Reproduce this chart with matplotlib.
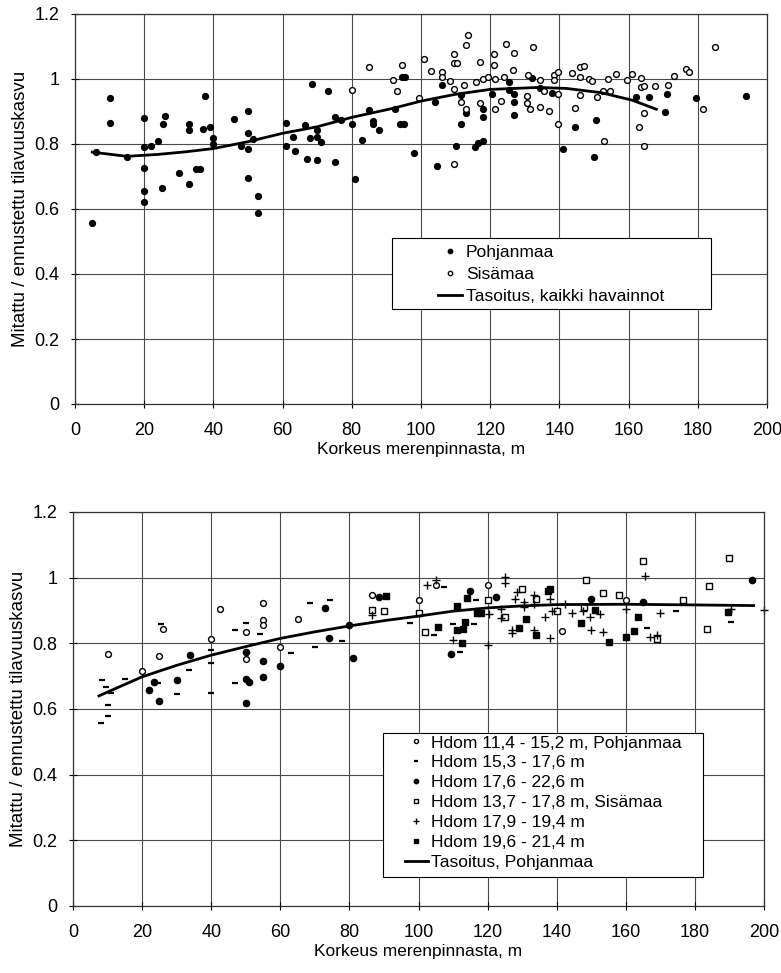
import matplotlib
matplotlib.use('Agg')
import matplotlib.pyplot as plt
from matplotlib.patches import Rectangle
from matplotlib.ticker import FuncFormatter, MultipleLocator

plt.rcParams['font.family'] = ['Liberation Sans', 'DejaVu Sans']

# --- Ylempi kuva: Pohjanmaa / Sisämaa ---
pohj_x = [5, 6, 10, 10, 15, 20, 20, 20, 20, 20, 22, 24, 25, 26, 25.5, 30, 33, 33, 33, 35, 36,
          37.5, 37, 39, 40, 40, 46, 50, 50, 48, 50, 50, 51.5, 53, 53, 61, 61, 63, 63.5, 66.5, 67,
          68.5, 68, 70, 70, 70, 71, 73, 75, 75, 77, 80, 81, 83, 85, 86, 86, 88, 92.5, 94, 95,
          94.5, 95.5, 98, 104, 104.5, 106, 111.5, 111.5, 110, 113, 115.5, 116.5, 118, 118, 118,
          120.5, 125.5, 125.5, 127, 127, 127, 132, 134.5, 138, 141, 144.5, 150, 150.5, 162, 166,
          171, 170.5, 179.5, 194]
pohj_y = [0.557, 0.775, 0.94, 0.865, 0.76, 0.88, 0.79, 0.727, 0.655, 0.62, 0.795, 0.81, 0.665,
          0.887, 0.862, 0.71, 0.676, 0.842, 0.86, 0.722, 0.724, 0.948, 0.847, 0.853, 0.818, 0.8,
          0.877, 0.903, 0.834, 0.795, 0.786, 0.694, 0.814, 0.64, 0.589, 0.865, 0.793, 0.82, 0.778,
          0.858, 0.754, 0.986, 0.817, 0.823, 0.843, 0.75, 0.807, 0.964, 0.884, 0.746, 0.874, 0.863,
          0.693, 0.813, 0.905, 0.871, 0.863, 0.843, 0.908, 0.862, 0.86, 1.005, 1.007, 0.771, 0.93,
          0.733, 0.98, 0.95, 0.862, 0.793, 0.894, 0.79, 0.802, 0.808, 0.907, 0.882, 0.955, 0.99,
          0.966, 0.953, 0.928, 0.89, 1.003, 0.972, 0.957, 0.786, 0.851, 0.759, 0.875, 0.945, 0.944,
          0.954, 0.897, 0.943, 0.947]

sis_x = [80, 85, 92, 93, 94.5, 99.5, 101, 103, 106, 106, 108.5, 109.5, 109.5, 110.5, 109.5, 109.5,
         112.5, 111.5, 113, 113.5, 113, 117, 116, 117, 118, 119.5, 121, 121, 121.5, 121.5, 123, 124,
         124.5, 126.5, 127, 130.5, 130.5, 131.5, 131, 132.5, 134.5, 134.5, 135.5, 137, 138.5, 139.5,
         138.5, 139.5, 139.5, 143.5, 144.5, 146, 147, 146, 146, 148.5, 149.5, 151, 153, 152.5, 154.5,
         154, 156.5, 159.5, 161, 163.5, 163.5, 164.5, 164.5, 163, 164.5, 167.5, 171.5, 173, 176.5,
         177.5, 181.5, 185]
sis_y = [0.967, 1.036, 0.998, 0.964, 1.043, 0.94, 1.06, 1.026, 1.023, 1.007, 0.995, 1.078, 1.048,
         1.05, 0.968, 0.738, 0.982, 0.928, 1.106, 1.136, 0.908, 1.052, 0.992, 0.926, 1.0, 1.005,
         1.078, 1.042, 1.0, 0.907, 0.932, 1.006, 1.108, 1.029, 1.081, 0.949, 0.927, 0.909, 1.011,
         1.097, 0.998, 0.913, 0.964, 0.9, 1.013, 1.023, 0.996, 0.953, 0.863, 1.017, 0.911, 1.038,
         1.039, 1.005, 0.95, 1.001, 0.995, 0.944, 0.81, 0.964, 0.964, 1.0, 1.015, 0.997, 1.015,
         1.004, 0.976, 0.978, 0.894, 0.853, 0.794, 0.978, 0.982, 1.008, 1.032, 1.022, 0.907, 1.098]

tas1_x = [5, 15, 24, 32, 40, 50, 60, 70, 80, 92, 100, 110, 120, 134, 142, 152, 161, 168]
tas1_y = [0.775, 0.762, 0.768, 0.776, 0.786, 0.807, 0.833, 0.853, 0.882, 0.91, 0.932, 0.953,
          0.968, 0.974, 0.971, 0.958, 0.935, 0.907]

# --- Alempi kuva: valtapituusluokat ---
h1_x = [10, 20, 25, 26, 40, 42.5, 50, 50, 55, 55, 55, 60, 65, 86.5, 100, 105, 120, 141.5, 160]
h1_y = [0.766, 0.716, 0.761, 0.844, 0.814, 0.905, 0.834, 0.752, 0.922, 0.87, 0.856, 0.788, 0.874,
        0.947, 0.932, 0.977, 0.979, 0.837, 0.931]

h2_x = [8.5, 9.5, 11, 10, 10, 8, 15, 24.5, 25.5, 30, 33.5, 40, 40, 40, 47, 50, 47, 54, 63, 68.5,
        74.5, 70, 78, 97.5, 107.5, 104.5, 112, 110, 116, 116.5, 166, 174.5, 190.5]
h2_y = [0.687, 0.666, 0.65, 0.612, 0.579, 0.558, 0.69, 0.68, 0.86, 0.646, 0.719, 0.78, 0.739, 0.648,
        0.84, 0.862, 0.68, 0.828, 0.771, 0.924, 0.931, 0.789, 0.807, 0.862, 0.972, 0.825, 0.774,
        0.86, 0.86, 0.931, 0.847, 0.9, 0.865]

h3_x = [22, 23.5, 25, 30, 34, 50, 50, 51, 50, 55, 55, 60, 73, 74, 80, 81, 88.5, 109.5, 115, 122.5,
        150, 165, 196.5]
h3_y = [0.658, 0.681, 0.624, 0.688, 0.763, 0.774, 0.69, 0.683, 0.617, 0.746, 0.698, 0.732, 0.908,
        0.816, 0.855, 0.754, 0.942, 0.767, 0.959, 0.94, 0.935, 0.927, 0.992]

h4_x = [86.5, 90, 100, 102, 120, 125, 130, 134, 140, 148, 148.5, 153.5, 158, 165, 169, 176.5, 184,
        183.5, 190]
h4_y = [0.903, 0.898, 0.891, 0.833, 0.931, 0.879, 0.967, 0.936, 0.899, 0.911, 0.992, 0.952, 0.947,
        1.05, 0.812, 0.933, 0.974, 0.845, 1.061]

h5_x = [86.5, 102.5, 105, 110, 120.5, 120, 124, 124, 125, 125, 127, 127, 128.5, 128, 130.5, 130.5,
        133.5, 133.5, 133.5, 136.5, 138, 138, 138.5, 142.5, 144.5, 147.5, 149.5, 150, 152.5, 153.5,
        160, 165.5, 167, 169, 170, 190.5, 200]
h5_y = [0.886, 0.977, 0.992, 0.81, 0.89, 0.795, 0.906, 0.876, 1.002, 0.985, 0.84, 0.832, 0.957,
        0.935, 0.926, 0.912, 0.946, 0.92, 0.84, 0.879, 0.817, 0.935, 0.9, 0.921, 0.891, 0.9, 0.881,
        0.84, 0.89, 0.835, 0.906, 1.005, 0.82, 0.825, 0.891, 0.906, 0.903]

h6_x = [90.5, 105.5, 111, 112.5, 111, 113, 113.5, 114, 117, 118, 129, 131, 134, 137.5, 138, 147,
        151, 155, 160, 162.5, 163.5, 189.5]
h6_y = [0.945, 0.85, 0.913, 0.8, 0.84, 0.843, 0.865, 0.938, 0.893, 0.893, 0.847, 0.874, 0.825,
        0.96, 0.964, 0.862, 0.901, 0.803, 0.82, 0.837, 0.881, 0.894]

tas2_x = [7.5, 20, 30, 40, 50, 60, 70, 80, 90, 100, 110, 120, 130, 140, 160, 180, 197]
tas2_y = [0.64, 0.698, 0.733, 0.764, 0.79, 0.815, 0.835, 0.853, 0.869, 0.883, 0.898, 0.908, 0.914,
          0.918, 0.919, 0.917, 0.915]

W, H = 781, 973
fig = plt.figure(figsize=(W / 100, H / 100), dpi=100)
ax1 = fig.add_axes([75 / W, 1 - 404 / H, 692 / W, 390 / H])
ax2 = fig.add_axes([73 / W, 1 - 906 / H, 691 / W, 394 / H])

fmt = FuncFormatter(lambda v, p: f'{v:g}')


def muotoile(ax):
    ax.set_xlim(0, 200)
    ax.set_ylim(0, 1.2)
    ax.xaxis.set_major_locator(MultipleLocator(20))
    ax.yaxis.set_major_locator(MultipleLocator(0.2))
    ax.yaxis.set_major_formatter(fmt)
    ax.grid(True, color='#4a4a4a', linewidth=0.8)
    ax.set_axisbelow(True)
    ax.tick_params(direction='inout', length=6, width=0.8, labelsize=13)
    ax.tick_params(axis='x', pad=10)
    ax.tick_params(axis='y', pad=8)
    for s in ax.spines.values():
        s.set_linewidth(0.9)
        s.set_color('#333333')
    ax.set_xlabel('Korkeus merenpinnasta, m', fontsize=12.5, labelpad=2)
    ax.set_ylabel('Mitattu / ennustettu tilavuuskasvu', fontsize=13.5, labelpad=4)


def laatikko(ax, x0, y0, x1, y1):
    ax.add_patch(Rectangle((x0, y0), x1 - x0, y1 - y0, transform=ax.transAxes,
                           facecolor='white', edgecolor='black', linewidth=0.8, zorder=4))


muotoile(ax1)
ax1.plot(pohj_x, pohj_y, 'o', color='black', ms=4.2, label='Pohjanmaa', clip_on=False)
ax1.plot(sis_x, sis_y, 'o', mfc='white', mec='black', mew=1.0, ms=4.2, label='Sisämaa', clip_on=False)
ax1.plot(tas1_x, tas1_y, '-', color='black', lw=2.0, label='Tasoitus, kaikki havainnot')
laatikko(ax1, 0.458, 0.244, 0.919, 0.426)
leg1 = ax1.legend(loc='upper left', bbox_to_anchor=(0.5246, 0.408), fontsize=12.5,
                  frameon=False, markerscale=0.75, handlelength=1.38, handletextpad=0.22,
                  labelspacing=0.39, borderpad=0, borderaxespad=0)
leg1.set_zorder(5)

muotoile(ax2)
ax2.plot(h1_x, h1_y, 'o', mfc='white', mec='black', mew=1.0, ms=4.2,
         label='Hdom 11,4 - 15,2 m, Pohjanmaa', clip_on=False)
ax2.plot(h2_x, h2_y, '_', color='black', mew=1.6, ms=4, label='Hdom 15,3 - 17,6 m', clip_on=False)
ax2.plot(h3_x, h3_y, 'o', color='black', ms=4.5, label='Hdom 17,6 - 22,6 m', clip_on=False)
ax2.plot(h4_x, h4_y, 's', mfc='white', mec='black', mew=1.0, ms=4.5,
         label='Hdom 13,7 - 17,8 m, Sisämaa', clip_on=False)
ax2.plot(h5_x, h5_y, '+', color='black', mew=1.0, ms=6, label='Hdom 17,9 - 19,4 m', clip_on=False)
ax2.plot(h6_x, h6_y, 's', color='black', ms=4.5, label='Hdom 19,6 - 21,4 m', clip_on=False)
ax2.plot(tas2_x, tas2_y, '-', color='black', lw=2.0, label='Tasoitus, Pohjanmaa')
laatikko(ax2, 0.4486, 0.0746, 0.9117, 0.44)
leg2 = ax2.legend(loc='upper left', bbox_to_anchor=(0.4805, 0.433), fontsize=12.5,
                  frameon=False, markerscale=0.7, handlelength=1.32, handletextpad=0.2,
                  labelspacing=0.27, borderpad=0, borderaxespad=0)
leg2.set_zorder(5)

fig.savefig('out.png', dpi=100)
